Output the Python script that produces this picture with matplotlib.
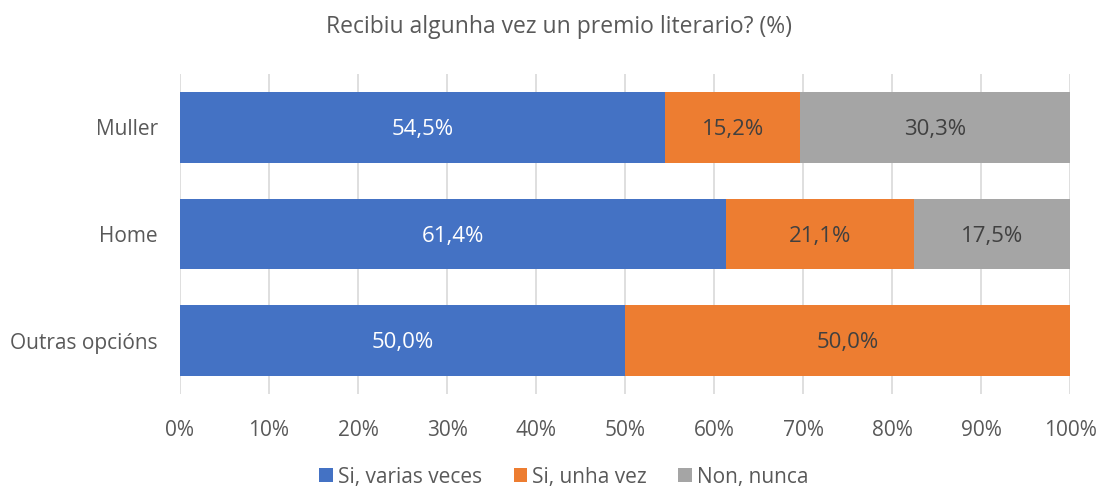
import numpy as np
import matplotlib.pyplot as plt

plt.rcParams['font.family'] = ['Open Sans', 'DejaVu Sans']

categories = ['Muller', 'Home', 'Outras opcións']
series_names = ['Si, varias veces', 'Si, unha vez', 'Non, nunca']
varias = [54.5, 61.4, 50.0]
unha = [15.2, 21.1, 50.0]
nunca = [30.3, 17.5, 0.0]
colors = ['#4472C4', '#ED7D31', '#A5A5A5']
text_colors = ['white', '#404040', '#404040']

fig = plt.figure(figsize=(10.99, 4.88), dpi=100)
ax = fig.add_axes([180 / 1099, 1 - 394 / 488, 890 / 1099, 320 / 488])

y = np.arange(len(categories))[::-1]
left = np.zeros(len(categories))
for vals, name, c, tc in zip([varias, unha, nunca], series_names, colors, text_colors):
    vals = np.array(vals)
    ax.barh(y, vals, left=left, height=0.665, color=c, label=name, zorder=3)
    for yi, l, v in zip(y, left, vals):
        if v > 0:
            ax.text(l + v / 2, yi - 0.02, f'{v:.1f}%'.replace('.', ','), ha='center', va='center',
                    color=tc, fontsize=16, zorder=4)
    left += vals

ax.set_xlim(0, 100)
ax.set_ylim(-0.5, 2.5)
ax.set_xticks(np.arange(0, 101, 10))
ax.set_xticklabels([f'{t}%' for t in range(0, 101, 10)])
ax.set_yticks(y)
ax.set_yticklabels(categories)
ax.tick_params(length=0, labelsize=15, colors='#595959')
ax.tick_params(axis='y', pad=16)
ax.tick_params(axis='x', pad=19)
ax.grid(axis='x', color='#D9D9D9', linewidth=1.2, zorder=0)
for s in ax.spines.values():
    s.set_visible(False)

fig.suptitle('Recibiu algunha vez un premio literario? (%)', x=559 / 1099, y=1 - 27 / 488,
             va='center', fontsize=16.5, color='#595959')
fig.legend(loc='center', bbox_to_anchor=(564 / 1099, 1 - 477 / 488), ncol=3, frameon=False,
           fontsize=15, handlelength=0.65, handleheight=0.65, handletextpad=0.25,
           columnspacing=1.5, labelcolor='#595959')

fig.savefig('out.png', dpi=100)
